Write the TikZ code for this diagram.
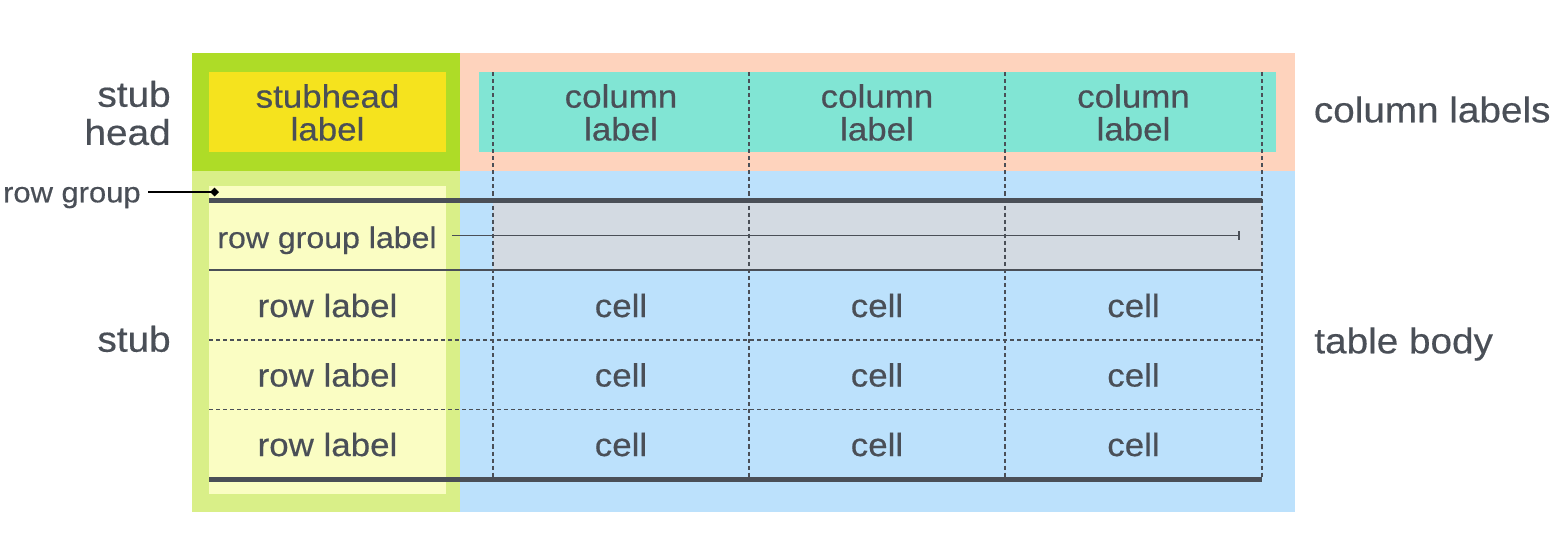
\documentclass[tikz,border=0pt]{standalone}
\usepackage{fontspec}
\setmainfont{Liberation Sans}[FakeStretch=1.08, FakeBold=0.4]
\usetikzlibrary{arrows.meta}

\definecolor{ink}{HTML}{4A4F57}
\definecolor{headgreen}{HTML}{AEDC27}
\definecolor{stubgreen}{HTML}{D9EF88}
\definecolor{shyellow}{HTML}{F5E31E}
\definecolor{paleyellow}{HTML}{FAFDC3}
\definecolor{peach}{HTML}{FED3BD}
\definecolor{colteal}{HTML}{81E5D4}
\definecolor{bodyblue}{HTML}{BCE1FC}
\definecolor{groupgrey}{HTML}{D3DAE2}

\begin{document}
\begin{tikzpicture}[x=0.02cm, y=-0.02cm,
    lbl/.style={inner sep=0pt, text=ink, font=\fontsize{18.4pt}{18.7pt}\selectfont},
    side/.style={inner sep=0pt, text=ink, font=\fontsize{20.4pt}{21.7pt}\selectfont},
    grplbl/.style={inner sep=0pt, text=ink, font=\fontsize{16.9pt}{18pt}\selectfont},
    smalllbl/.style={inner sep=0pt, text=ink, font=\fontsize{16.3pt}{18pt}\selectfont},
    gridline/.style={ink, line width=0.85pt, dash pattern=on 2.3pt off 1.7pt},
    thickrule/.style={ink, line width=2.8pt},
    thinrule/.style={ink, line width=1.1pt},
    pointer/.style={black, line width=0.85pt, -{Turned Square[length=5pt, width=5pt]}, shorten <=0.14cm},
    spanline/.style={ink, line width=1pt, -{Bar[width=5pt]}, shorten <=0.31cm}]

    \useasboundingbox (0,0) rectangle (1555,555);

    % regions
    \fill[headgreen] (192,53) rectangle (460,171);
    \fill[stubgreen] (192,171) rectangle (460,512);
    \fill[peach] (460,53) rectangle (1295,171);
    \fill[bodyblue] (460,171) rectangle (1295,512);
    \fill[shyellow] (209,72) rectangle (446,152);
    \fill[colteal] (479,72) rectangle (1276,152);
    \fill[paleyellow] (209,186) rectangle (446,494);
    \fill[groupgrey] (493,200) rectangle (1262,270);

    % grid
    \draw[gridline] (493,72) -- (493,479);
    \draw[gridline] (749,72) -- (749,479);
    \draw[gridline] (1005,72) -- (1005,479);
    \draw[gridline] (1262,72) -- (1262,479);
    \draw[gridline] (209,340) -- (1262,340);
    \draw[gridline] (209,409.5) -- (1262,409.5);
    \draw[thinrule] (209,270) -- (1262,270);
    \draw[thickrule] (209,200.5) -- (1262,200.5);
    \draw[thickrule] (209,479.5) -- (1262,479.5);

    % heading
    \node[lbl, align=center] (shl) at (327.5,112.5) {stubhead\\label};
    \node[lbl, align=center] (c1) at (621,112.5) {column\\label};
    \node[lbl, align=center] (c2) at (877,112.5) {column\\label};
    \node[lbl, align=center] (c3) at (1133.5,112.5) {column\\label};

    % side names
    \node[side, align=right, anchor=east] (sth) at (171,113) {stub\\head};
    \node[side, anchor=base east] (st) at (171,351.7) {stub};
    \node[side, anchor=base west] (cls) at (1313.5,122.3) {column labels};
    \node[side, anchor=base west] (tb) at (1314,353.3) {table body};
    \node[smalllbl, anchor=base east] (rg) at (141,202.3) {row group};

    % row group
    \node[grplbl, anchor=base] (rgl) at (327,248) {row group label};
    \coordinate (rgdot) at (219,192);
    \coordinate (rgend) at (1240,235.5);
    \draw[pointer] (rgdot -| rg.east) -- (rgdot);
    \draw[spanline] (rgend -| rgl.east) -- (rgend);

    % body
    \node[lbl, anchor=base] (r1) at (327.5,317) {row label};
    \node[lbl, anchor=base] (r2) at (327.5,386.5) {row label};
    \node[lbl, anchor=base] (r3) at (327.5,456) {row label};

    \node[lbl, anchor=base] (x11) at (621,317) {cell};
    \node[lbl, anchor=base] (x12) at (877,317) {cell};
    \node[lbl, anchor=base] (x13) at (1133.5,317) {cell};
    \node[lbl, anchor=base] (x21) at (621,386.5) {cell};
    \node[lbl, anchor=base] (x22) at (877,386.5) {cell};
    \node[lbl, anchor=base] (x23) at (1133.5,386.5) {cell};
    \node[lbl, anchor=base] (x31) at (621,456) {cell};
    \node[lbl, anchor=base] (x32) at (877,456) {cell};
    \node[lbl, anchor=base] (x33) at (1133.5,456) {cell};
\end{tikzpicture}
\end{document}
